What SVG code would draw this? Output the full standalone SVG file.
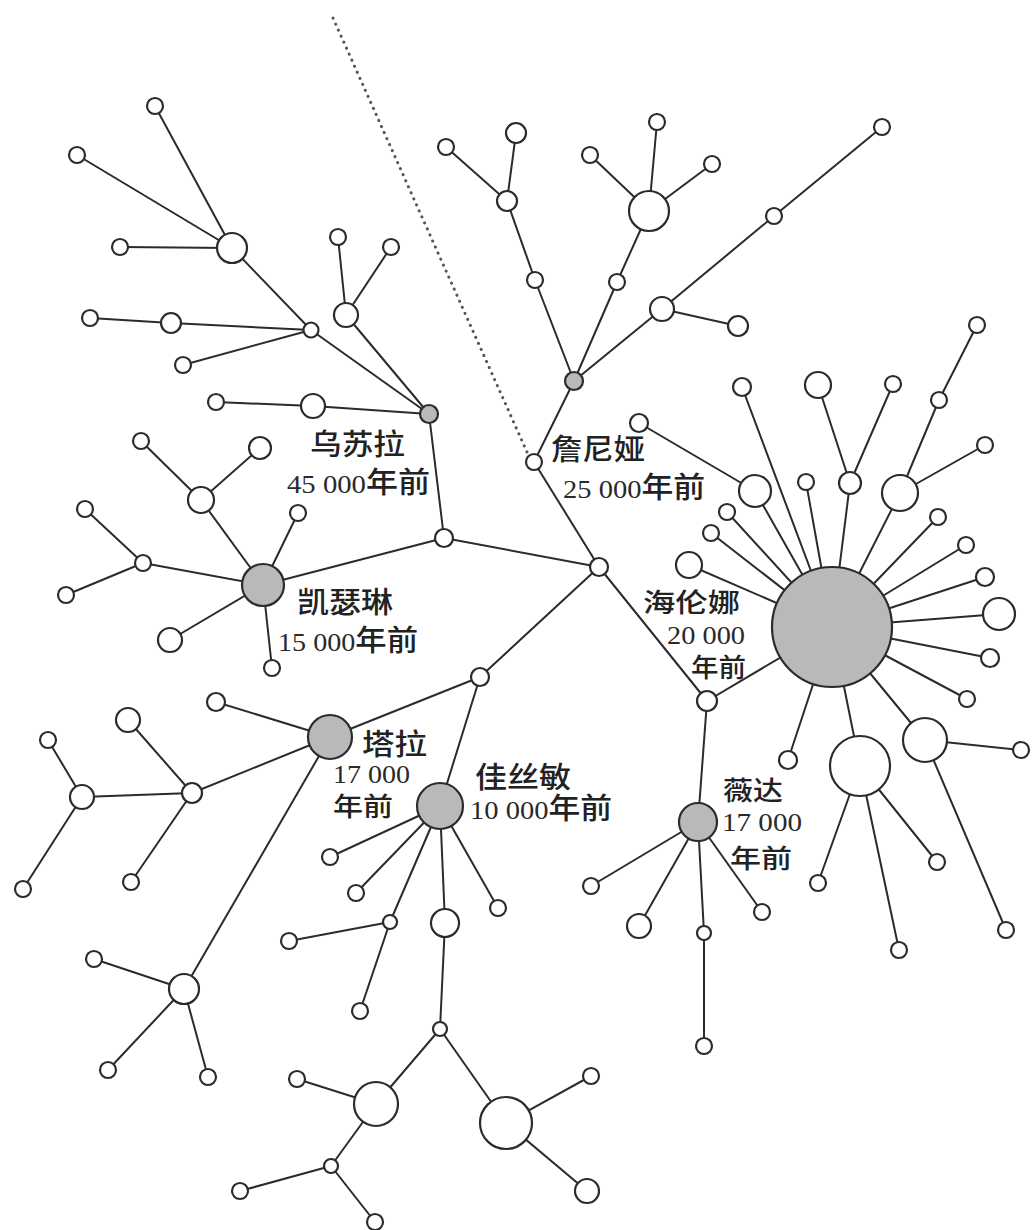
<svg xmlns="http://www.w3.org/2000/svg" width="1032" height="1230" viewBox="0 0 1032 1230">
<style>
.e{stroke:#2b2b2b;stroke-width:2;fill:none}
.dot{stroke:#555;stroke-width:3;stroke-dasharray:0.1 6.5;stroke-linecap:round;fill:none}
.n{fill:#fff;stroke:#2b2b2b;stroke-width:2.2}
.g{fill:#b9b9b9;stroke:#2b2b2b;stroke-width:2.2}
.t{font-family:"Liberation Serif","Noto Sans CJK SC",serif;font-size:26px;fill:#2a2a2a}
.c{font-family:"Noto Sans CJK SC",sans-serif;font-size:29px;font-weight:500;fill:#222}
.s{font-size:26px}
</style>
<rect width="1032" height="1230" fill="#fff"/>
<g id="connectors">
<path class="dot" d="M333,18 L527,452"/>
<path class="e" d="M232,248L155,106M232,248L77,155M232,248L120,247M232,248L311,330M311,330L171,323M171,323L90,318M311,330L183,365M311,330L429,414M346,315L338,237M346,315L391,247M346,315L429,414M216,402L313,406M313,406L429,414M429,414L444,538"/>
<path class="e" d="M446,147L507,201M516,133L507,201M507,201L535,280M535,280L574,381M590,155L649,211M657,122L649,211M712,164L649,211M649,211L617,282M617,282L574,381M574,381L662,309M662,309L738,326M662,309L774,216M774,216L882,127M574,381L534,462M534,462L599,567"/>
<path class="e" d="M444,538L599,567M444,538L263,585M599,567L480,677M599,567L707,701M707,701L832,627M707,701L698,822"/>
<path class="e" d="M263,585L201,500M201,500L141,441M201,500L260,448M263,585L298,513M263,585L143,563M143,563L85,509M143,563L66,595M263,585L170,640M263,585L272,668"/>
<path class="e" d="M480,677L330,737M480,677L440,806M330,737L216,702M330,737L192,793M192,793L128,720M192,793L82,797M192,793L131,882M82,797L48,740M82,797L23,889M330,737L184,989M184,989L94,959M184,989L108,1070M184,989L208,1077"/>
<path class="e" d="M440,806L330,857M440,806L356,893M440,806L390,922M390,922L289,941M390,922L360,1011M440,806L445,923M440,806L498,908M445,923L440,1029M440,1029L376,1104M440,1029L506,1123M376,1104L297,1079M376,1104L331,1166M331,1166L240,1191M331,1166L375,1222M506,1123L591,1076M506,1123L587,1191"/>
<path class="e" d="M639,423L755,491M755,491L832,627M742,387L832,627M806,482L832,627M818,385L850,483M893,384L850,483M850,483L832,627M977,325L939,400M939,400L900,493M900,493L985,445M900,493L832,627M938,517L832,627M966,545L832,627M985,577L832,627M999,614L832,627M990,658L832,627M967,699L832,627M925,740L832,627M925,740L1021,750M925,740L1006,930M727,512L832,627M711,533L832,627M689,565L832,627M788,760L832,627M860,766L832,627M860,766L818,883M860,766L899,950M860,766L937,862"/>
<path class="e" d="M698,822L591,886M698,822L639,926M698,822L704,933M704,933L704,1046M698,822L762,912"/>
</g>
<g id="nodes">
<g id="A1"><circle class="n" cx="155" cy="106" r="8"/></g>
<g id="A2"><circle class="n" cx="77" cy="155" r="8"/></g>
<g id="A3"><circle class="n" cx="120" cy="247" r="8"/></g>
<g id="H1"><circle class="n" cx="232" cy="248" r="15"/></g>
<g id="H2"><circle class="n" cx="311" cy="330" r="7.5"/></g>
<g id="A4"><circle class="n" cx="90" cy="318" r="8"/></g>
<g id="A5"><circle class="n" cx="171" cy="323" r="10"/></g>
<g id="A6"><circle class="n" cx="183" cy="365" r="8"/></g>
<g id="H3"><circle class="n" cx="346" cy="315" r="12"/></g>
<g id="A7"><circle class="n" cx="338" cy="237" r="8"/></g>
<g id="A8"><circle class="n" cx="391" cy="247" r="8"/></g>
<g id="A9"><circle class="n" cx="216" cy="402" r="8"/></g>
<g id="A10"><circle class="n" cx="313" cy="406" r="12"/></g>
<g id="ursula"><circle class="g" cx="429" cy="414" r="9"/>
<text class="c" x="310" y="455" textLength="95" lengthAdjust="spacingAndGlyphs">乌苏拉</text>
<text class="t" x="287" y="493" textLength="143" lengthAdjust="spacingAndGlyphs">45 000<tspan class="c">年前</tspan></text></g>
<g id="B1"><circle class="n" cx="446" cy="147" r="8"/></g>
<g id="B2"><circle class="n" cx="516" cy="133" r="10"/></g>
<g id="B3"><circle class="n" cx="507" cy="201" r="10"/></g>
<g id="B4"><circle class="n" cx="535" cy="280" r="8"/></g>
<g id="tanyaHub"><circle class="g" cx="574" cy="381" r="9"/></g>
<g id="B5"><circle class="n" cx="590" cy="155" r="8"/></g>
<g id="B6"><circle class="n" cx="657" cy="122" r="8"/></g>
<g id="B7"><circle class="n" cx="712" cy="164" r="8"/></g>
<g id="B8"><circle class="n" cx="649" cy="211" r="20"/></g>
<g id="B9"><circle class="n" cx="617" cy="282" r="8"/></g>
<g id="B10"><circle class="n" cx="662" cy="309" r="12"/></g>
<g id="B11"><circle class="n" cx="738" cy="326" r="10"/></g>
<g id="B12"><circle class="n" cx="774" cy="216" r="8"/></g>
<g id="B13"><circle class="n" cx="882" cy="127" r="8"/></g>
<g id="xenia"><circle class="n" cx="534" cy="462" r="8"/>
<text class="c" x="551" y="460" textLength="94" lengthAdjust="spacingAndGlyphs">詹尼娅</text>
<text class="t" x="563" y="498" textLength="142" lengthAdjust="spacingAndGlyphs">25 000<tspan class="c">年前</tspan></text></g>
<g id="C"><circle class="n" cx="599" cy="567" r="9"/></g>
<g id="J1"><circle class="n" cx="444" cy="538" r="9"/></g>
<g id="katrine"><circle class="g" cx="263" cy="585" r="21"/>
<text class="c" x="297" y="613" textLength="96" lengthAdjust="spacingAndGlyphs">凯瑟琳</text>
<text class="t" x="278" y="651" textLength="140" lengthAdjust="spacingAndGlyphs">15 000<tspan class="c">年前</tspan></text></g>
<g id="K1"><circle class="n" cx="201" cy="500" r="13"/></g>
<g id="K2"><circle class="n" cx="141" cy="441" r="8"/></g>
<g id="K3"><circle class="n" cx="260" cy="448" r="11"/></g>
<g id="K4"><circle class="n" cx="298" cy="513" r="8"/></g>
<g id="K5"><circle class="n" cx="143" cy="563" r="8"/></g>
<g id="K6"><circle class="n" cx="85" cy="509" r="8"/></g>
<g id="K7"><circle class="n" cx="66" cy="595" r="8"/></g>
<g id="K8"><circle class="n" cx="170" cy="640" r="12"/></g>
<g id="K9"><circle class="n" cx="272" cy="668" r="8"/></g>
<g id="THub"><circle class="n" cx="480" cy="677" r="9"/></g>
<g id="tara"><circle class="g" cx="330" cy="737" r="22"/>
<text class="c" x="362" y="755" textLength="65" lengthAdjust="spacingAndGlyphs">塔拉</text>
<text class="t s" x="333" y="783" textLength="77" lengthAdjust="spacingAndGlyphs">17 000</text>
<text class="c s" x="333" y="816" textLength="60" lengthAdjust="spacingAndGlyphs">年前</text></g>
<g id="T1"><circle class="n" cx="216" cy="702" r="9"/></g>
<g id="T2"><circle class="n" cx="128" cy="720" r="12"/></g>
<g id="T3"><circle class="n" cx="192" cy="793" r="10"/></g>
<g id="T4"><circle class="n" cx="48" cy="740" r="8"/></g>
<g id="T5"><circle class="n" cx="82" cy="797" r="12"/></g>
<g id="T6"><circle class="n" cx="23" cy="889" r="8"/></g>
<g id="T7"><circle class="n" cx="131" cy="882" r="8"/></g>
<g id="T8"><circle class="n" cx="184" cy="989" r="15"/></g>
<g id="T9"><circle class="n" cx="94" cy="959" r="8"/></g>
<g id="T10"><circle class="n" cx="108" cy="1070" r="8"/></g>
<g id="T11"><circle class="n" cx="208" cy="1077" r="8"/></g>
<g id="jasmine"><circle class="g" cx="440" cy="806" r="23"/>
<text class="c" x="475" y="788" textLength="96" lengthAdjust="spacingAndGlyphs">佳丝敏</text>
<text class="t" x="470" y="819" textLength="142" lengthAdjust="spacingAndGlyphs">10 000<tspan class="c">年前</tspan></text></g>
<g id="G1"><circle class="n" cx="330" cy="857" r="8"/></g>
<g id="G2"><circle class="n" cx="356" cy="893" r="8"/></g>
<g id="G3"><circle class="n" cx="390" cy="922" r="7"/></g>
<g id="G4"><circle class="n" cx="289" cy="941" r="8"/></g>
<g id="G5"><circle class="n" cx="360" cy="1011" r="8"/></g>
<g id="G6"><circle class="n" cx="445" cy="923" r="14"/></g>
<g id="G7"><circle class="n" cx="498" cy="908" r="8"/></g>
<g id="G8"><circle class="n" cx="440" cy="1029" r="7"/></g>
<g id="G9"><circle class="n" cx="376" cy="1104" r="22"/></g>
<g id="G10"><circle class="n" cx="297" cy="1079" r="8"/></g>
<g id="G11"><circle class="n" cx="331" cy="1166" r="7"/></g>
<g id="G12"><circle class="n" cx="240" cy="1191" r="8"/></g>
<g id="G13"><circle class="n" cx="375" cy="1222" r="8"/></g>
<g id="G14"><circle class="n" cx="506" cy="1123" r="26"/></g>
<g id="G15"><circle class="n" cx="591" cy="1076" r="8"/></g>
<g id="G16"><circle class="n" cx="587" cy="1191" r="12"/></g>
<g id="Hj"><circle class="n" cx="707" cy="701" r="10"/></g>
<g id="helena"><circle class="g" cx="832" cy="627" r="60"/>
<text class="c s" x="643" y="612" textLength="97" lengthAdjust="spacingAndGlyphs">海伦娜</text>
<text class="t s" x="667" y="644" textLength="78" lengthAdjust="spacingAndGlyphs">20 000</text>
<text class="c s" x="691" y="677" textLength="55" lengthAdjust="spacingAndGlyphs">年前</text></g>
<g id="D1"><circle class="n" cx="639" cy="423" r="9"/></g>
<g id="D2"><circle class="n" cx="755" cy="491" r="16"/></g>
<g id="D3"><circle class="n" cx="742" cy="387" r="9"/></g>
<g id="D4"><circle class="n" cx="806" cy="482" r="8"/></g>
<g id="D5"><circle class="n" cx="818" cy="385" r="13"/></g>
<g id="D6"><circle class="n" cx="850" cy="483" r="11"/></g>
<g id="D7"><circle class="n" cx="893" cy="384" r="8"/></g>
<g id="D8"><circle class="n" cx="977" cy="325" r="8"/></g>
<g id="D9"><circle class="n" cx="939" cy="400" r="8"/></g>
<g id="D10"><circle class="n" cx="900" cy="493" r="18"/></g>
<g id="D11"><circle class="n" cx="985" cy="445" r="8"/></g>
<g id="D12"><circle class="n" cx="938" cy="517" r="8"/></g>
<g id="D13"><circle class="n" cx="966" cy="545" r="8"/></g>
<g id="D14"><circle class="n" cx="985" cy="577" r="9"/></g>
<g id="D15"><circle class="n" cx="999" cy="614" r="16"/></g>
<g id="D16"><circle class="n" cx="990" cy="658" r="9"/></g>
<g id="D17"><circle class="n" cx="967" cy="699" r="8"/></g>
<g id="D18"><circle class="n" cx="925" cy="740" r="22"/></g>
<g id="D19"><circle class="n" cx="727" cy="512" r="8"/></g>
<g id="D20"><circle class="n" cx="711" cy="533" r="8"/></g>
<g id="D21"><circle class="n" cx="689" cy="565" r="13"/></g>
<g id="E1"><circle class="n" cx="788" cy="760" r="9"/></g>
<g id="E2"><circle class="n" cx="860" cy="766" r="30"/></g>
<g id="E3"><circle class="n" cx="818" cy="883" r="8"/></g>
<g id="E4"><circle class="n" cx="899" cy="950" r="8"/></g>
<g id="E5"><circle class="n" cx="937" cy="862" r="8"/></g>
<g id="E6"><circle class="n" cx="1021" cy="750" r="8"/></g>
<g id="E7"><circle class="n" cx="1006" cy="930" r="8"/></g>
<g id="velda"><circle class="g" cx="698" cy="822" r="19"/>
<text class="c s" x="723" y="800" textLength="60" lengthAdjust="spacingAndGlyphs">薇达</text>
<text class="t s" x="722" y="831" textLength="80" lengthAdjust="spacingAndGlyphs">17 000</text>
<text class="c s" x="730" y="868" textLength="62" lengthAdjust="spacingAndGlyphs">年前</text></g>
<g id="V1"><circle class="n" cx="591" cy="886" r="8"/></g>
<g id="V2"><circle class="n" cx="639" cy="926" r="12"/></g>
<g id="V3"><circle class="n" cx="704" cy="933" r="7"/></g>
<g id="V4"><circle class="n" cx="704" cy="1046" r="8"/></g>
<g id="V5"><circle class="n" cx="762" cy="912" r="8"/></g>
</g>
</svg>
